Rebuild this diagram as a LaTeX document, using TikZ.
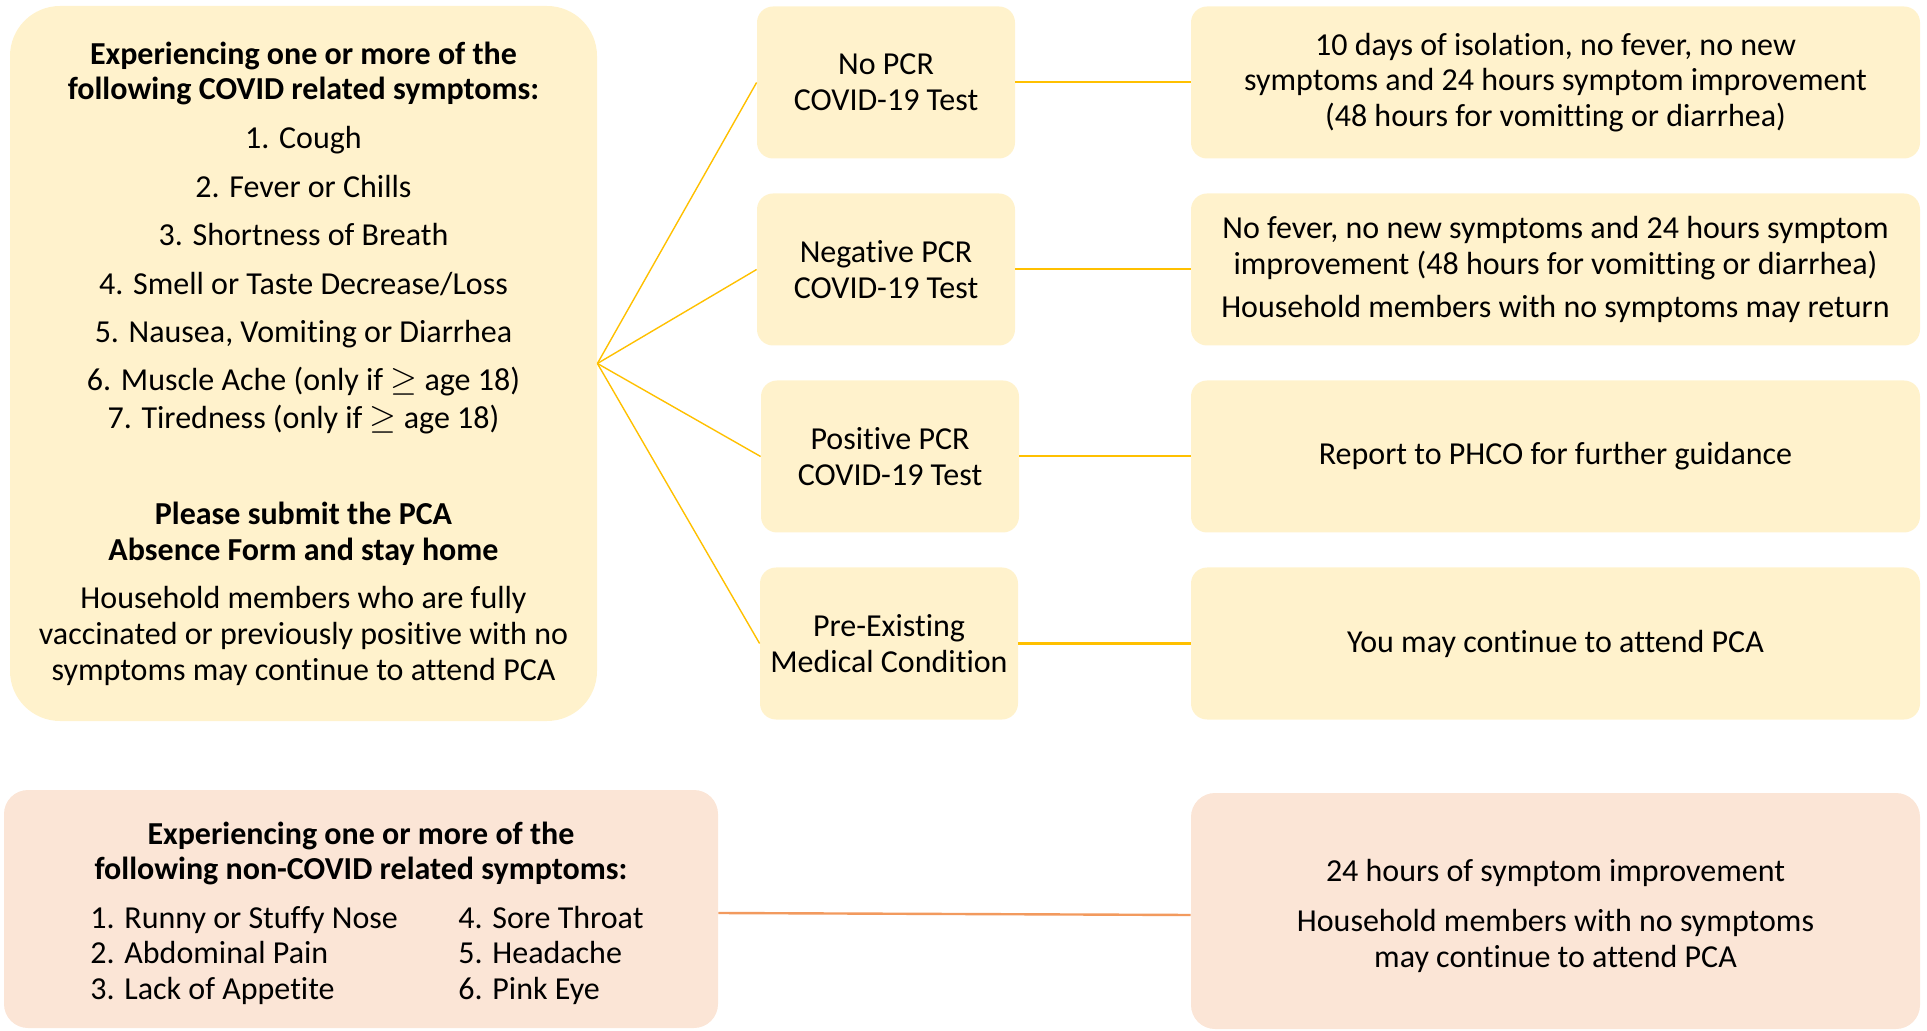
\documentclass[tikz,border=0pt]{standalone}
\usepackage{fontspec}
\setmainfont{Carlito}[Ligatures=NoCommon]
\definecolor{ylfill}{HTML}{FFF2CC}
\definecolor{ylline}{HTML}{FFC000}
\definecolor{orfill}{HTML}{FBE5D6}
\definecolor{orline}{HTML}{F29A5E}
\tikzset{
    box/.style={rounded corners=8pt, align=center, inner sep=0pt,
        font=\fontsize{16}{17.8}\selectfont},
    ybox/.style={box, fill=ylfill},
    obox/.style={box, fill=orfill},
    testbox/.style={ybox, minimum width=129pt, minimum height=76pt},
    resbox/.style={ybox, minimum width=364.5pt, minimum height=76pt},
    yline/.style={draw=ylline, line width=1pt},
}
\begin{document}
\begin{tikzpicture}[x=0.5pt,y=-0.5pt]
    \useasboundingbox (0,0) rectangle (1927,1031);

    % covid related symptoms
    \node[ybox, rounded corners=25pt, minimum width=293.5pt, minimum height=357.5pt]
        (covid) at (303.5,363.5) {\textbf{Experiencing one or more of the}\\
        \textbf{following COVID related symptoms:}\\[6.5pt]
        1. Cough\\[6.5pt]
        2. Fever or Chills\\[6.5pt]
        3. Shortness of Breath\\[6.5pt]
        4. Smell or Taste Decrease/Loss\\[6.5pt]
        5. Nausea, Vomiting or Diarrhea\\[6.2pt]
        6. Muscle Ache (only if $\geq$ age 18)\\[0.8pt]
        7. Tiredness (only if $\geq$ age 18)\\[30.5pt]
        \textbf{Please submit the PCA}\\
        \textbf{Absence Form and stay home}\\[6.5pt]
        Household members who are fully\\
        vaccinated or previously positive with no\\
        symptoms may continue to attend PCA};

    \node[testbox] (nopcr) at (886,82.5) {No PCR\\COVID-19 Test};
    \node[testbox] (negpcr) at (886,269.5) {Negative PCR\\COVID-19 Test};
    \node[testbox] (pospcr) at (890,456.5) {Positive PCR\\COVID-19 Test};
    \node[testbox] (preex) at (889,643.5) {Pre-Existing\\Medical Condition};

    \node[resbox] (isol) at (1555.5,82.5) {10 days of isolation, no fever, no new\\
        symptoms and 24 hours symptom improvement\\
        (48 hours for vomitting or diarrhea)};
    \node[resbox] (negres) at (1555.5,269.5) {No fever, no new symptoms and 24 hours symptom\\
        improvement (48 hours for vomitting or diarrhea)\\[4pt]
        Household members with no symptoms may return};
    \node[resbox] (report) at (1555.5,456.5) {Report to PHCO for further guidance};
    \node[resbox] (attend) at (1555.5,643.5) {You may continue to attend PCA};

    \foreach \t in {nopcr,negpcr,pospcr,preex}
        \draw[yline, line width=0.7pt] (covid.east) -- (\t.west);
    \draw[yline] (nopcr) -- (isol);
    \draw[yline] (negpcr) -- (negres);
    \draw[yline] (pospcr) -- (report);
    \draw[yline, line width=1.5pt] (preex) -- (attend);

    % non-covid symptoms
    \node[obox, rounded corners=12pt, minimum width=357pt, minimum height=119pt]
        (noncovid) at (361,909) {};
    \node[box] (noncovidtxt) at (361,916) {\textbf{Experiencing one or more of the}\\
        \textbf{following non-COVID related symptoms:}\\[8pt]
        \hspace*{6pt}\begin{tabular}{@{}p{184pt}@{}l@{}}
        1. Runny or Stuffy Nose & 4. Sore Throat\\
        2. Abdominal Pain & 5. Headache\\
        3. Lack of Appetite & 6. Pink Eye
        \end{tabular}};
    \node[obox, rounded corners=12pt, minimum width=364.5pt, minimum height=118pt]
        (nonres) at (1555.5,911) {};
    \node[box] (nonrestxt) at (1555.5,916) {24 hours of symptom improvement\\[7pt]
        Household members with no symptoms\\
        may continue to attend PCA};
    \draw[draw=orline, line width=1.2pt] ([yshift=-2pt]noncovid.east) -- ([yshift=-2pt]nonres.west);
\end{tikzpicture}
\end{document}
